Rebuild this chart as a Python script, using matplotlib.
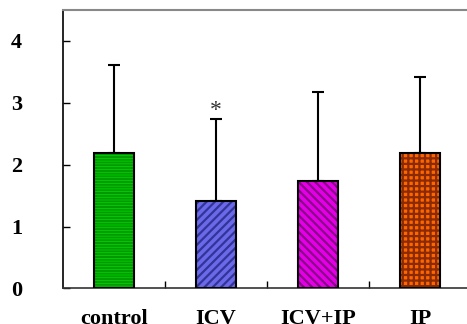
import numpy as np
import matplotlib
matplotlib.use('Agg')
import matplotlib.pyplot as plt

# group means and upper SD
groups = ['control', 'ICV', 'ICV+IP', 'IP']
means = [2.19, 1.42, 1.74, 2.19]
err_top = [3.61, 2.74, 3.17, 3.42]
face = ['#00ee00', '#6a6ae8', '#e400e4', '#ff6600']
hatch_col = ['#009900', '#33339a', '#8a008a', '#8a2a00']
hatches = ['------', '////', '\\\\\\\\', '+++']

plt.rcParams['font.family'] = ['Liberation Serif', 'DejaVu Serif']
plt.rcParams['hatch.linewidth'] = 1.6

fig = plt.figure(figsize=(4.67, 3.24), dpi=100)
ax = fig.add_axes([0.1349, 0.1096, 0.8737, 0.8596])

x = np.arange(len(groups))
yerr = np.array(err_top) - np.array(means)

# hatched fill first, then black outline on top
for i in range(len(groups)):
    ax.bar(x[i], means[i], width=0.4, color=face[i], edgecolor=hatch_col[i],
           hatch=hatches[i], linewidth=0, zorder=2)
ax.bar(x, means, width=0.4, fill=False, edgecolor='black', linewidth=1.5, zorder=3)
ax.errorbar(x, means, yerr=[np.zeros(len(x)), yerr], fmt='none', ecolor='black',
            elinewidth=1.5, capsize=4.5, capthick=1.5, zorder=1)

ax.text(x[1], err_top[1] + 0.14, '*', ha='center', va='center', fontsize=17, color='#333333')

ax.set_xlim(-0.5, 3.5)
ax.set_ylim(0, 4.5)
ax.set_yticks([0, 1, 2, 3, 4])
ax.set_yticklabels(['0', '1', '2', '3', '4'], fontsize=16, fontweight='bold')
ax.set_xticks([0.5, 1.5, 2.5])
ax.set_xticklabels([])
ax.tick_params(axis='y', direction='in', length=5, width=1, pad=29.5)
ax.tick_params(axis='x', direction='in', length=5, width=1)
for i, g in enumerate(groups):
    ax.text(x[i], -0.57, g, ha='center', va='baseline', fontsize=16, fontweight='bold')

ax.spines['left'].set_linewidth(1.2)
ax.spines['bottom'].set_linewidth(1.2)
ax.spines['bottom'].set_color('#333333')
ax.spines['top'].set_color('#888888')
ax.spines['top'].set_linewidth(1.5)
ax.spines['right'].set_visible(False)

fig.savefig('out.png', dpi=100)
